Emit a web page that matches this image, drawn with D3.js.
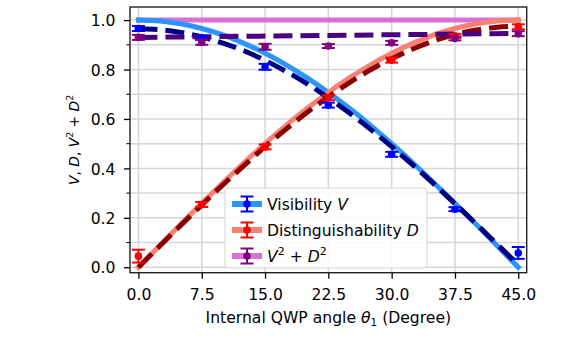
<!DOCTYPE html>
<html>
<head>
<meta charset="utf-8">
<script src="https://cdn.jsdelivr.net/npm/d3@7"></script>
<style>
  body { margin: 0; background: #fff; }
  svg { font-family: "DejaVu Sans", sans-serif; }
</style>
</head>
<body>
<div id="chart"></div>
<script>
// Data
const angles = [0, 7.5, 15, 22.5, 30, 37.5, 45];
const visibility = [0.966, 0.928, 0.811, 0.656, 0.457, 0.235, 0.058];
const visibilityErr = [0.010, 0.008, 0.012, 0.010, 0.010, 0.008, 0.024];
const disting = [0.045, 0.254, 0.487, 0.686, 0.838, 0.936, 0.973];
const distingErr = [0.026, 0.010, 0.010, 0.010, 0.010, 0.008, 0.010];
const sumSq = [0.930, 0.910, 0.892, 0.895, 0.908, 0.926, 0.945];
const sumSqErr = [0.010, 0.010, 0.012, 0.008, 0.008, 0.008, 0.010];

// curves, every 2.5 degree
const curveAngles = [0, 2.5, 5, 7.5, 10, 12.5, 15, 17.5, 20, 22.5, 25, 27.5, 30, 32.5, 35, 37.5, 40, 42.5, 45];
const visTheory = [1.000, 0.996, 0.985, 0.966, 0.940, 0.906, 0.866, 0.819, 0.766, 0.707, 0.643, 0.574, 0.500, 0.423, 0.342, 0.259, 0.174, 0.087, 0.000];
const disTheory = [0.000, 0.087, 0.174, 0.259, 0.342, 0.423, 0.500, 0.574, 0.643, 0.707, 0.766, 0.819, 0.866, 0.906, 0.940, 0.966, 0.985, 0.996, 1.000];
const visFit = [0.965, 0.961, 0.950, 0.932, 0.907, 0.876, 0.837, 0.792, 0.742, 0.685, 0.624, 0.558, 0.488, 0.414, 0.337, 0.257, 0.176, 0.093, 0.010];
const disFit = [0.000, 0.085, 0.169, 0.252, 0.333, 0.411, 0.488, 0.559, 0.627, 0.689, 0.747, 0.799, 0.844, 0.883, 0.916, 0.942, 0.960, 0.971, 0.975];
const sumAngles = [0, 22.5, 45];
const sumTheory = [1.0, 1.0, 1.0];
const sumFit = [0.930, 0.938, 0.946];

const xTicks = [0, 7.5, 15, 22.5, 30, 37.5, 45];
const yTicks = [0, 0.2, 0.4, 0.6, 0.8, 1.0];
const yMinor = [0.1, 0.3, 0.5, 0.7, 0.9];

function drawChart() {
  const W = 586, H = 357;
  const margin = { top: 7, right: 59.3, bottom: 84.3, left: 130 };
  const width = W - margin.left - margin.right;
  const height = H - margin.top - margin.bottom;
  const fs = 15.6;

  const svg = d3.select("#chart").append("svg")
    .attr("width", W)
    .attr("height", H);

  const g = svg.append("g")
    .attr("transform", `translate(${margin.left},${margin.top})`);

  const x = d3.scaleLinear().domain([-1, 46]).range([0, width]);
  const y = d3.scaleLinear().domain([-0.022, 1.053]).range([height, 0]);

  // grid
  g.append("g").selectAll("line")
    .data(xTicks)
    .enter().append("line")
    .attr("x1", d => x(d)).attr("x2", d => x(d))
    .attr("y1", 0).attr("y2", height)
    .attr("stroke", "#d6d6d6").attr("stroke-width", 1.5);
  g.append("g").selectAll("line")
    .data(yTicks.concat(yMinor))
    .enter().append("line")
    .attr("x1", 0).attr("x2", width)
    .attr("y1", d => y(d)).attr("y2", d => y(d))
    .attr("stroke", "#d6d6d6").attr("stroke-width", 1.5);

  const line = d3.line()
    .x(d => x(d[0]))
    .y(d => y(d[1]))
    .curve(d3.curveMonotoneX);

  function drawLine(xs, ys, color, dashed) {
    g.append("path")
      .datum(xs.map((a, i) => [a, ys[i]]))
      .attr("d", line)
      .attr("fill", "none")
      .attr("stroke", color)
      .attr("stroke-width", 5)
      .attr("stroke-linecap", dashed ? "butt" : "square")
      .attr("stroke-dasharray", dashed ? "19,8" : null);
  }

  drawLine(sumAngles, sumTheory, "#da70d6", false);
  drawLine(curveAngles, visTheory, "#2b95ff", false);
  drawLine(curveAngles, disTheory, "#fa8072", false);
  drawLine(curveAngles, visFit, "#000080", true);
  drawLine(curveAngles, disFit, "#8b0000", true);
  drawLine(sumAngles, sumFit, "#4b0082", true);

  // error bar points
  function drawPoints(vals, errs, color) {
    const pts = g.append("g");
    const data = angles.map((a, i) => ({ a: a, v: vals[i], e: errs[i] }));
    pts.selectAll(".eb").data(data).enter().append("line")
      .attr("x1", d => x(d.a)).attr("x2", d => x(d.a))
      .attr("y1", d => y(d.v - d.e)).attr("y2", d => y(d.v + d.e))
      .attr("stroke", color).attr("stroke-width", 2);
    [-1, 1].forEach(s => {
      pts.selectAll(".cap" + s).data(data).enter().append("line")
        .attr("x1", d => x(d.a) - 6.5).attr("x2", d => x(d.a) + 6.5)
        .attr("y1", d => y(d.v + s * d.e)).attr("y2", d => y(d.v + s * d.e))
        .attr("stroke", color).attr("stroke-width", 2);
    });
    pts.selectAll("circle").data(data).enter().append("circle")
      .attr("cx", d => x(d.a)).attr("cy", d => y(d.v))
      .attr("r", 3.8).attr("fill", color);
  }
  drawPoints(visibility, visibilityErr, "#0000ff");
  drawPoints(disting, distingErr, "#ff0000");
  drawPoints(sumSq, sumSqErr, "#800080");

  // axes
  const xAxis = d3.axisBottom(x).tickValues(xTicks).tickFormat(d3.format(".1f"))
    .tickSize(6).tickPadding(10.5);
  const yAxis = d3.axisLeft(y).tickValues(yTicks).tickFormat(d3.format(".1f"))
    .tickSize(6).tickPadding(8.5);

  const gx = g.append("g").attr("transform", `translate(0,${height})`).call(xAxis);
  const gy = g.append("g").call(yAxis);
  [gx, gy].forEach(a => {
    a.select(".domain").remove();
    a.selectAll("line").attr("stroke", "#000").attr("stroke-width", 1.3);
    a.selectAll("text").attr("font-size", fs).attr("font-family", "DejaVu Sans").attr("fill", "#000");
  });
  gy.selectAll("text").attr("dy", "0.36em");
  gy.append("g").selectAll("line").data(yMinor).enter().append("line")
    .attr("x1", -3.5).attr("x2", 0)
    .attr("y1", d => y(d)).attr("y2", d => y(d))
    .attr("stroke", "#000").attr("stroke-width", 1.1);

  g.append("rect")
    .attr("width", width).attr("height", height)
    .attr("fill", "none").attr("stroke", "#222").attr("stroke-width", 1.4);

  // legend
  const lg = svg.append("g");
  lg.append("rect")
    .attr("x", 225).attr("y", 188).attr("width", 202).attr("height", 80)
    .attr("rx", 3)
    .attr("fill", "#fff").attr("fill-opacity", 0.85)
    .attr("stroke", "#ccc").attr("stroke-opacity", 0.8);

  const legendItems = [
    { band: "#2b95ff", pt: "#0000ff", label: [["Visibility ", "normal"], ["V", "italic"]] },
    { band: "#fa8072", pt: "#ff0000", label: [["Distinguishability ", "normal"], ["D", "italic"]] },
    { band: "#da70d6", pt: "#800080", label: null }
  ];
  legendItems.forEach((it, i) => {
    const cy = 204 + i * 26;
    lg.append("line").attr("x1", 232).attr("x2", 262).attr("y1", cy).attr("y2", cy)
      .attr("stroke", it.band).attr("stroke-width", 6);
    lg.append("line").attr("x1", 247).attr("x2", 247).attr("y1", cy - 7.5).attr("y2", cy + 7.5)
      .attr("stroke", it.pt).attr("stroke-width", 2);
    [-7.5, 7.5].forEach(o => lg.append("line")
      .attr("x1", 240.5).attr("x2", 253.5).attr("y1", cy + o).attr("y2", cy + o)
      .attr("stroke", it.pt).attr("stroke-width", 2));
    lg.append("circle").attr("cx", 247).attr("cy", cy).attr("r", 3.8).attr("fill", it.pt);

    const t = lg.append("text").attr("x", 267).attr("y", cy + 5.6)
      .attr("font-size", fs);
    if (it.label) {
      it.label.forEach(p => t.append("tspan").attr("font-style", p[1]).text(p[0]));
    } else {
      t.append("tspan").attr("font-style", "italic").text("V");
      t.append("tspan").attr("font-size", 11).attr("dy", -6.5).text("2");
      t.append("tspan").attr("dy", 6.5).text(" + ");
      t.append("tspan").attr("font-style", "italic").text("D");
      t.append("tspan").attr("font-size", 11).attr("dy", -6.5).text("2");
    }
  });

  // axis labels
  const xl = svg.append("text")
    .attr("x", margin.left + width / 2).attr("y", 323)
    .attr("text-anchor", "middle").attr("font-size", fs);
  xl.append("tspan").text("Internal QWP angle ");
  xl.append("tspan").attr("font-style", "italic").text("θ");
  xl.append("tspan").attr("font-size", 10.5).attr("dy", 3).text("1");
  xl.append("tspan").attr("dy", -3).text(" (Degree)");

  const yl = svg.append("text")
    .attr("transform", `translate(79,${margin.top + height / 2}) rotate(-90)`)
    .attr("text-anchor", "middle").attr("font-size", 13.8);
  yl.append("tspan").attr("font-style", "italic").text("V");
  yl.append("tspan").text(", ");
  yl.append("tspan").attr("font-style", "italic").text("D");
  yl.append("tspan").text(", ");
  yl.append("tspan").attr("font-style", "italic").text("V");
  yl.append("tspan").attr("font-size", 9.5).attr("dy", -6).text("2");
  yl.append("tspan").attr("dy", 6).text(" + ");
  yl.append("tspan").attr("font-style", "italic").text("D");
  yl.append("tspan").attr("font-size", 9.5).attr("dy", -6).text("2");
}

document.addEventListener('DOMContentLoaded', drawChart);
</script>
</body>
</html>
